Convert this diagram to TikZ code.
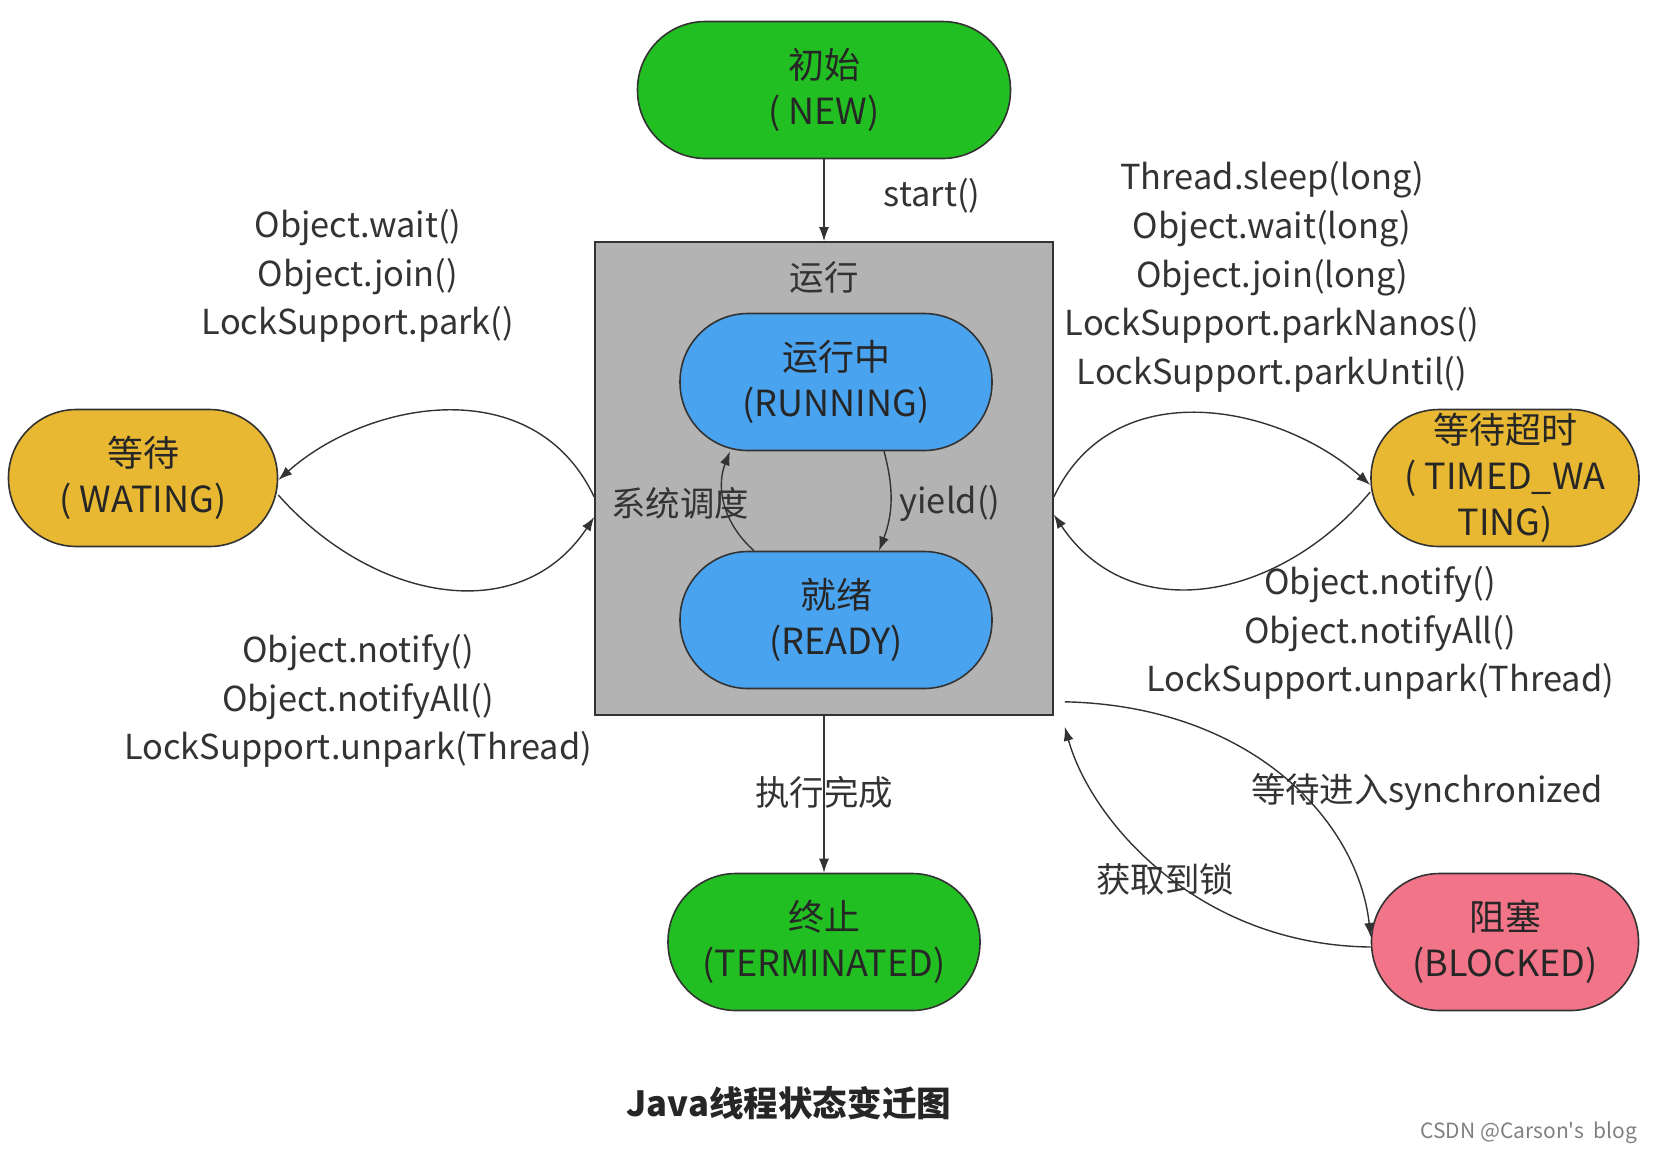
\documentclass[tikz,border=0pt]{standalone}
\usepackage{fontspec}
\setmainfont{Noto Sans CJK SC}
\newfontfamily\markfont[Ligatures=TeXOff]{Noto Sans CJK SC}
\usetikzlibrary{arrows.meta}
\definecolor{newgreen}{HTML}{22BF22}
\definecolor{runblue}{HTML}{4AA3EF}
\definecolor{waitgold}{HTML}{E8B832}
\definecolor{blockpink}{HTML}{F27488}
\definecolor{boxgray}{HTML}{B3B3B3}
\definecolor{ink}{HTML}{333333}
\begin{document}
\begin{tikzpicture}[x=0.5pt,y=-0.5pt,
    >={Latex[length=7pt,width=5pt]},
    state/.style={draw=ink,line width=0.8pt,rounded corners=34pt,minimum height=68.5pt,
        inner sep=0pt,align=center,text=black!85,font=\fontsize{18}{23}\selectfont},
    txt/.style={text=ink,align=center,font=\fontsize{17.2}{24.4}\selectfont},
    conn/.style={->,draw=black!80,line width=0.7pt}]
    \useasboundingbox (0,0) rectangle (1660,1153);
    % running box
    \node[draw=ink,line width=0.8pt,fill=boxgray,minimum width=229pt,minimum height=236.5pt] (run) at (824,478.5) {};
    \node[txt] (runlbl) at (824,277) {运行};
    % states
    \node[state,fill=newgreen,minimum width=186.5pt] (new) at (824,90) {初始\\( NEW)};
    \node[state,fill=runblue,minimum width=156pt] (running) at (836,382) {运行中\\(RUNNING)};
    \node[state,fill=runblue,minimum width=156pt] (ready) at (836,620) {就绪\\(READY)};
    \node[state,fill=waitgold,minimum width=134.5pt] (wait) at (143,478) {等待\\( WATING)};
    \node[state,fill=waitgold,minimum width=134pt] (timed) at (1505,478) {等待超时\\( TIMED\_WA\\TING)};
    \node[state,fill=newgreen,minimum width=156pt] (term) at (824,942) {终止\\(TERMINATED)};
    \node[state,fill=blockpink,minimum width=133.5pt] (block) at (1505,942) {阻塞\\(BLOCKED)};
    % connectors
    \draw[conn] (new) -- (run);
    \draw[conn] (run) -- (term);
    \draw[conn] ([xshift=24pt]running.south) to[bend left=18] ([xshift=21.5pt]ready.north);
    \draw[conn] ([xshift=-41pt]ready.north) to[bend left=35] ([xshift=-53pt]running.south);
    \draw[conn] ([yshift=-9.25pt]run.west) .. controls +(-60,-127) and +(90,-80) .. ([yshift=-1pt]wait.east);
    \draw[conn] ([yshift=-8.5pt]wait.east) .. controls +(93,105) and +(-75,113) .. ([yshift=-19.25pt]run.west);
    \draw[conn] ([yshift=-9.25pt]run.east) .. controls +(60,-127) and +(-90,-80) .. ([yshift=-3.5pt]timed.west);
    \draw[conn] ([yshift=-7pt]timed.west) .. controls +(-90,108) and +(77,115) .. ([yshift=-18pt]run.east);
    \draw[conn] ([shift={(11,-14)}]run.south east) .. controls +(186,4) and +(-13,-117) .. ([yshift=2.5pt]block.west);
    \draw[conn] ([yshift=-2.5pt]block.west) .. controls +(-173,-2) and +(26,94) .. ([shift={(11,11)}]run.south east);
    % labels
    \node[txt] (start) at (932,196) {start()};
    \node[txt] (sched) at (680,503) {系统调度};
    \node[txt] (yield) at (950,503) {yield()};
    \node[txt] (done) at (824,792) {执行完成};
    \node[txt] (sync) at (1427,792) {等待进入synchronized};
    \node[txt] (lock) at (1165,879) {获取到锁};
    \node[txt] (waitin) at (358,276) {Object.wait()\\Object.join()\\LockSupport.park()};
    \node[txt] (waitout) at (358,701) {Object.notify()\\Object.notifyAll()\\LockSupport.unpark(Thread)};
    \node[txt] (timedin) at (1272,277) {Thread.sleep(long)\\Object.wait(long)\\Object.join(long)\\LockSupport.parkNanos()\\LockSupport.parkUntil()};
    \node[txt] (timedout) at (1380,633) {Object.notify()\\Object.notifyAll()\\LockSupport.unpark(Thread)};
    \node[text=black!85,font=\bfseries\fontsize{17.3}{20}\selectfont] (title) at (789,1103) {Java线程状态变迁图};
    \node[text=black!50,anchor=east,font=\markfont\fontsize{10.5}{12}\selectfont] (mark) at (1644,1133) {CSDN @Carson's\ \ blog};
\end{tikzpicture}
\end{document}
